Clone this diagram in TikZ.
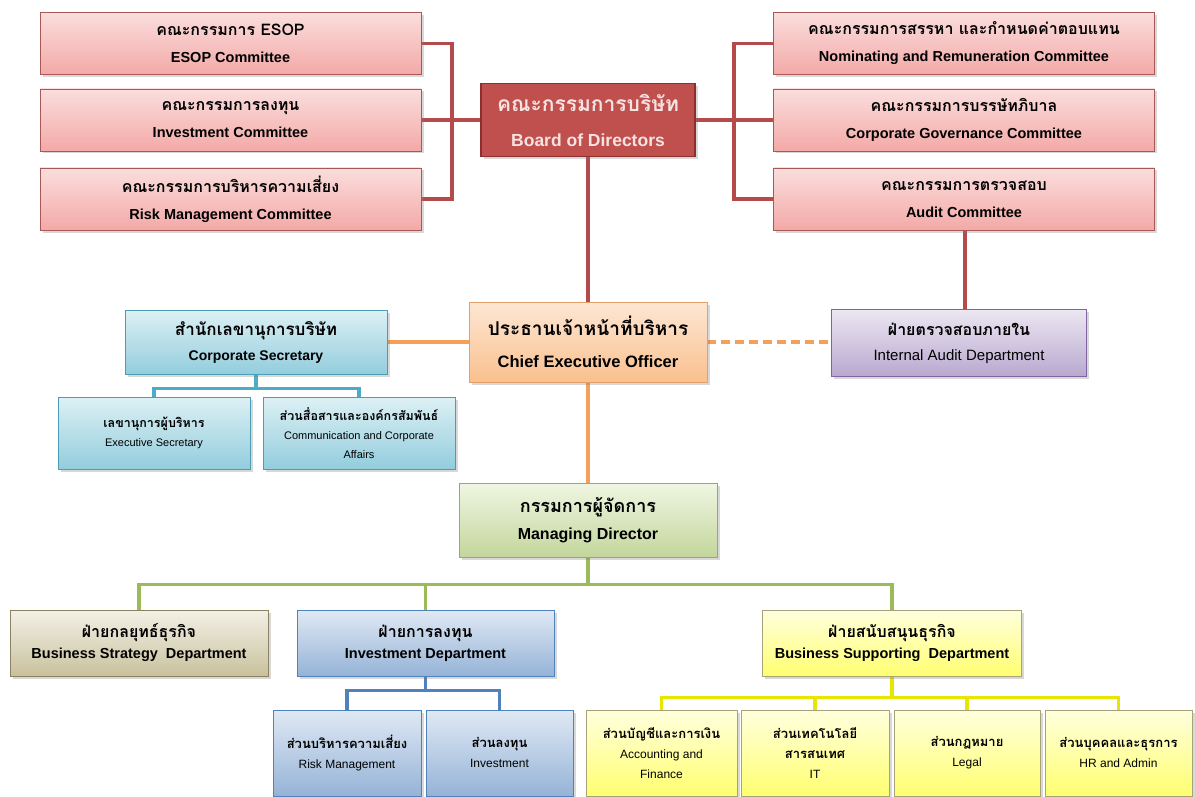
\documentclass[tikz,border=0pt]{standalone}
\usepackage{fontspec}
\setmainfont{Liberation Sans}
\newfontfamily\thaif[Script=Thai]{Loma}
\usetikzlibrary{shadows,backgrounds}
\pgfdeclarelayer{paper}
\pgfsetlayers{paper,background,main}
\definecolor{comT}{HTML}{FADEDD}
\definecolor{comBo}{HTML}{F3A9A7}
\definecolor{comD}{HTML}{A85856}
\definecolor{brdF}{HTML}{C0504D}
\definecolor{brdD}{HTML}{8B302E}
\definecolor{brdTx}{HTML}{F6E2E1}
\definecolor{redL}{HTML}{B54A4B}
\definecolor{ceoT}{HTML}{FDE7D3}
\definecolor{ceoB}{HTML}{FAC08F}
\definecolor{ceoD}{HTML}{E3A06A}
\definecolor{orL}{HTML}{F5A05A}
\definecolor{csT}{HTML}{DDF0F5}
\definecolor{csB}{HTML}{93CDDD}
\definecolor{csD}{HTML}{4A9DB5}
\definecolor{tqL}{HTML}{4BACC6}
\definecolor{iaT}{HTML}{ECE7F2}
\definecolor{iaB}{HTML}{B8A8CF}
\definecolor{iaD}{HTML}{8064A2}
\definecolor{mdT}{HTML}{F0F6E3}
\definecolor{mdB}{HTML}{C3D69B}
\definecolor{mdD}{HTML}{93B055}
\definecolor{grL}{HTML}{9BBB59}
\definecolor{bsT}{HTML}{F3F1E7}
\definecolor{bsB}{HTML}{C9C19D}
\definecolor{bsD}{HTML}{8C8262}
\definecolor{ivT}{HTML}{E0E9F4}
\definecolor{ivB}{HTML}{95B3D7}
\definecolor{ivD}{HTML}{4F81BD}
\definecolor{blL}{HTML}{4F81BD}
\definecolor{suT}{HTML}{FFFFDE}
\definecolor{suB}{HTML}{FFFF70}
\definecolor{suD}{HTML}{A8A278}
\definecolor{yeL}{HTML}{E6E600}
\newcommand\thtxt[2]{{\thaif\bfseries\fontsize{#1}{\the\baselineskip}\selectfont #2}}
\tikzset{
  box/.style={draw, rectangle, inner sep=0pt, align=center, line width=0.9pt,
    drop shadow={shadow xshift=2.5pt, shadow yshift=-2.5pt, opacity=0.3}},
  com/.style={box, draw=comD, top color=comT, bottom color=comBo,
    minimum width=381, minimum height=62, font=\bfseries\fontsize{14.5}{27}\selectfont},
  brd/.style={box, draw=brdD, fill=brdF, line width=1.6pt, text=brdTx,
    minimum width=214, minimum height=73, font=\bfseries\fontsize{17.5}{35}\selectfont},
  ceos/.style={box, draw=ceoD, top color=ceoT, bottom color=ceoB,
    minimum width=238, minimum height=80, font=\bfseries\fontsize{16.5}{32}\selectfont},
  css/.style={box, draw=csD, top color=csT, bottom color=csB,
    minimum width=262, minimum height=64, font=\bfseries\fontsize{14}{25}\selectfont},
  csc/.style={box, draw=csD, top color=csT, bottom color=csB,
    minimum width=192, minimum height=72, font=\fontsize{11}{19}\selectfont},
  ias/.style={box, draw=iaD, top color=iaT, bottom color=iaB,
    minimum width=255, minimum height=67, font=\fontsize{15}{25}\selectfont},
  mds/.style={box, draw=mdD, top color=mdT, bottom color=mdB,
    minimum width=258, minimum height=74, font=\bfseries\fontsize{16}{27}\selectfont},
  bss/.style={box, draw=bsD, top color=bsT, bottom color=bsB,
    minimum width=258, minimum height=66, font=\bfseries\fontsize{14.5}{21}\selectfont},
  ivs/.style={box, draw=ivD, top color=ivT, bottom color=ivB,
    minimum width=257, minimum height=66, font=\bfseries\fontsize{14.5}{21}\selectfont},
  ivc/.style={box, draw=ivD, top color=ivT, bottom color=ivB,
    minimum height=86, font=\fontsize{12}{20}\selectfont},
  sus/.style={box, draw=suD, top color=suT, bottom color=suB,
    minimum width=259, minimum height=66, font=\bfseries\fontsize{14.5}{21}\selectfont},
  suc/.style={box, draw=suD, top color=suT, bottom color=suB,
    minimum height=86, font=\fontsize{12}{20}\selectfont},
  redl/.style={draw=redL, line width=3.5pt},
  orl/.style={draw=orL, line width=3.2pt},
  tql/.style={draw=tqL, line width=3.5pt},
  grl/.style={draw=grL, line width=3.5pt},
  bll/.style={draw=blL, line width=3.5pt},
  yel/.style={draw=yeL, line width=3.5pt},
}
\begin{document}
\begin{tikzpicture}[x=1pt, y=-1pt]
\useasboundingbox (0,0) rectangle (1195,797);
\begin{pgfonlayer}{paper}
\fill[white] (0,0) rectangle (1195,797);
\end{pgfonlayer}
% committees
\node[com] (esop) at (230.5,43.5) {\thtxt{16}{คณะกรรมการ ESOP}\\ESOP Committee};
\node[com] (invc) at (230.5,120) {\thtxt{16}{คณะกรรมการลงทุน}\\Investment Committee};
\node[com] (riskc) at (230.5,199) {\thtxt{16}{คณะกรรมการบริหารความเสี่ยง}\\Risk Management Committee};
\node[com] (nom) at (964,43.5) {\thtxt{16}{คณะกรรมการสรรหา และกำหนดค่าตอบแทน}\\Nominating and Remuneration Committee};
\node[com] (cg) at (964,120) {\thtxt{16}{คณะกรรมการบรรษัทภิบาล}\\Corporate Governance Committee};
\node[com] (aud) at (964,199) {\thtxt{16}{คณะกรรมการตรวจสอบ}\\Audit Committee};
\node[brd] (board) at (588,120) {\thtxt{21}{คณะกรรมการบริษัท}\\Board of Directors};
\coordinate (lb) at (452,120);
\coordinate (rb) at (734,120);
\coordinate (auditx) at (965,0);
% executive level
\node[ceos] (ceo) at (588,342) {\thtxt{19}{ประธานเจ้าหน้าที่บริหาร}\\Chief Executive Officer};
\node[css] (cs) at (256,342) {\thtxt{17}{สำนักเลขานุการบริษัท}\\Corporate Secretary};
\node[ias] (ia) at (959,343) {\thtxt{16}{ฝ่ายตรวจสอบภายใน}\\Internal Audit Department};
\node[csc] (es) at (154,433) {\thtxt{12.5}{เลขานุการผู้บริหาร}\\Executive Secretary};
\node[csc] (cm) at (359,433) {\thtxt{12.5}{ส่วนสื่อสารและองค์กรสัมพันธ์}\\Communication and Corporate\\Affairs};
\node[mds] (md) at (588,520) {\thtxt{18}{กรรมการผู้จัดการ}\\Managing Director};
% departments
\node[bss] (bs) at (139,643) {\thtxt{16}{ฝ่ายกลยุทธ์ธุรกิจ}\\Business Strategy\ \ Department};
\node[ivs] (inv) at (425.5,643) {\thtxt{16}{ฝ่ายการลงทุน}\\Investment Department};
\node[sus] (sup) at (892,643) {\thtxt{16}{ฝ่ายสนับสนุนธุรกิจ}\\Business Supporting\ \ Department};
\node[ivc, minimum width=148] (rm) at (347,753) {\thtxt{13}{ส่วนบริหารความเสี่ยง}\\Risk Management};
\node[ivc, minimum width=147] (iv) at (499.5,753) {\thtxt{13}{ส่วนลงทุน}\\Investment};
\node[suc, minimum width=151] (acc) at (661.5,753) {\thtxt{13}{ส่วนบัญชีและการเงิน}\\Accounting and\\Finance};
\node[suc, minimum width=148] (it) at (815,753) {\thtxt{13}{ส่วนเทคโนโลยี}\\\thtxt{13}{สารสนเทศ}\\IT};
\node[suc, minimum width=146] (legal) at (967,753) {\thtxt{13}{ส่วนกฎหมาย}\\Legal};
\node[suc, minimum width=147] (hr) at (1118.5,753) {\thtxt{13}{ส่วนบุคคลและธุรการ}\\HR and Admin};
\begin{pgfonlayer}{background}
\draw[redl] (esop.east) -| (lb) |- (riskc.east);
\draw[redl] (invc.east) -- (board.west);
\draw[redl] (nom.west) -| (rb) |- (aud.west);
\draw[redl] (board.east) -- (cg.west);
\draw[redl] (board.south) -- (ceo.north);
\draw[redl] (aud.south -| auditx) -- (ia.north -| auditx);
\draw[orl] (cs.east) -- (ceo.west);
\draw[orl, dash pattern=on 9pt off 5pt] (ceo.east) -- (ceo.east -| ia.west);
\draw[orl] (ceo.south) -- (md.north);
\draw[tql] (cs.south) -- ++(0,14) coordinate (csb);
\draw[tql] (es.north) |- (csb) -| (cm.north);
\draw[grl] (md.south) -- ++(0,27) coordinate (mdb);
\draw[grl] (bs.north) |- (mdb) -| (sup.north);
\draw[grl] (inv.north) -- (inv.north |- mdb);
\draw[bll] (inv.south) -- ++(0,14) coordinate (invb);
\draw[bll] (rm.north) |- (invb) -| (iv.north);
\draw[yel] (sup.south) -- ++(0,21) coordinate (supb);
\draw[yel] (acc.north) |- (supb) -| (hr.north);
\draw[yel] (it.north) -- (it.north |- supb);
\draw[yel] (legal.north) -- (legal.north |- supb);
\end{pgfonlayer}
\end{tikzpicture}
\end{document}
